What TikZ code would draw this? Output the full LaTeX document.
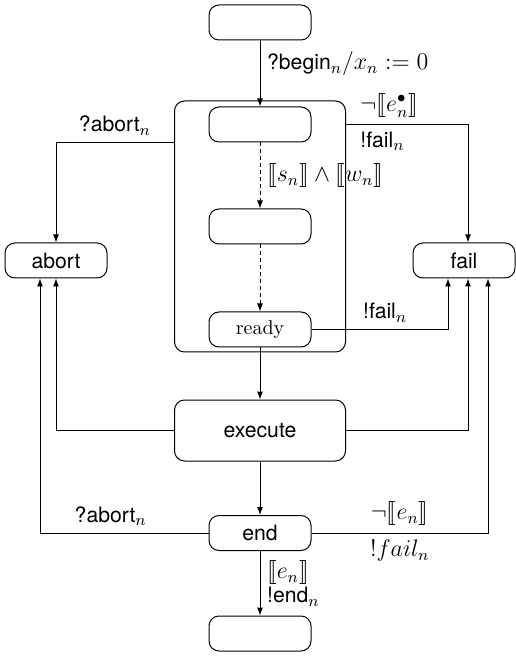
\documentclass[tikz,border=0pt]{standalone}
\usepackage[no-math]{fontspec}
\setsansfont{TeX Gyre Heros}[Scale=1.06]
\usepackage{stmaryrd}
\DeclareMathSizes{10}{12}{8.5}{6}
\usetikzlibrary{arrows.meta}
\tikzstyle{state}=[draw, rounded corners=5pt, minimum width=51pt, minimum height=17.5pt, inner sep=0pt, font=\sffamily]
\tikzstyle{wide}=[state, minimum width=85.5pt]
\tikzset{trans/.style={-{Latex[length=4pt,width=3pt]}}}
\tikzset{sub/.style={trans, dash pattern=on 2pt off 1.5pt}}

\begin{document}
\begin{tikzpicture}[x=0.5pt,y=-0.5pt,line width=0.5pt]
  \useasboundingbox (0,0) rectangle (515,656);
  %% superstate around the first three states
  \draw (260,226.5) node[wide,minimum height=125.5pt] (cont) {};

  \draw (260,22.5) node[state] (init) {};
  \draw (260,124.5) node[state] (s1) {};
  \draw (260,226.5) node[state] (s2) {};
  \draw (260,329.5) node[state,font=\rmfamily] (ready) {ready};
  \draw (260,430.5) node[wide,minimum height=30.5pt] (exec) {execute};
  \draw (260,533) node[state] (end) {end};
  \draw (260,633.5) node[state] (done) {};

  \draw (56,260.5) node[state] (abort) {abort};
  \draw (464,260.5) node[state] (fail) {fail};

  %% main line
  \draw[trans] (init) -- (s1) node[pos=0.35,right] {{\sffamily ?begin}$_n/x_n := 0$};
  \draw[sub] (s1) -- (s2) node[midway,right] {$\llbracket s_n\rrbracket \wedge \llbracket w_n\rrbracket$};
  \draw[sub] (s2) -- (ready);
  \draw[trans] (ready) -- (exec);
  \draw[trans] (exec) -- (end);
  \draw[trans] (end) -- (done) node[midway,right,align=left] {$\llbracket e_n\rrbracket$\\{\sffamily !end}$_n$};

  %% to abort
  \draw[trans] (s1.south -| cont.west) -| (abort) node[pos=0.25,above] {{\sffamily ?abort}$_n$};
  \draw[trans] (exec) -| (abort);
  \draw[trans] (end) -| ([xshift=-8pt]abort.south) node[pos=0.29,above] {{\sffamily ?abort}$_n$};

  %% to fail
  \draw[trans] (s1 -| cont.east) -| ([xshift=2pt]fail.north)
    node[pos=0.03,above right] {$\neg\llbracket e_n^\bullet\rrbracket$}
    node[pos=0.03,below right] {{\sffamily !fail}$_n$};
  \draw[trans] (ready) -| ([xshift=-8pt]fail.south) node[pos=0.27,above] {{\sffamily !fail}$_n$};
  \draw[trans] (exec) -| ([xshift=2pt]fail.south);
  \draw[trans] (end) -| ([xshift=12pt]fail.south)
    node[pos=0.25,above] {$\neg\llbracket e_n\rrbracket$}
    node[pos=0.25,below] {$!fail_n$};
\end{tikzpicture}
\end{document}
